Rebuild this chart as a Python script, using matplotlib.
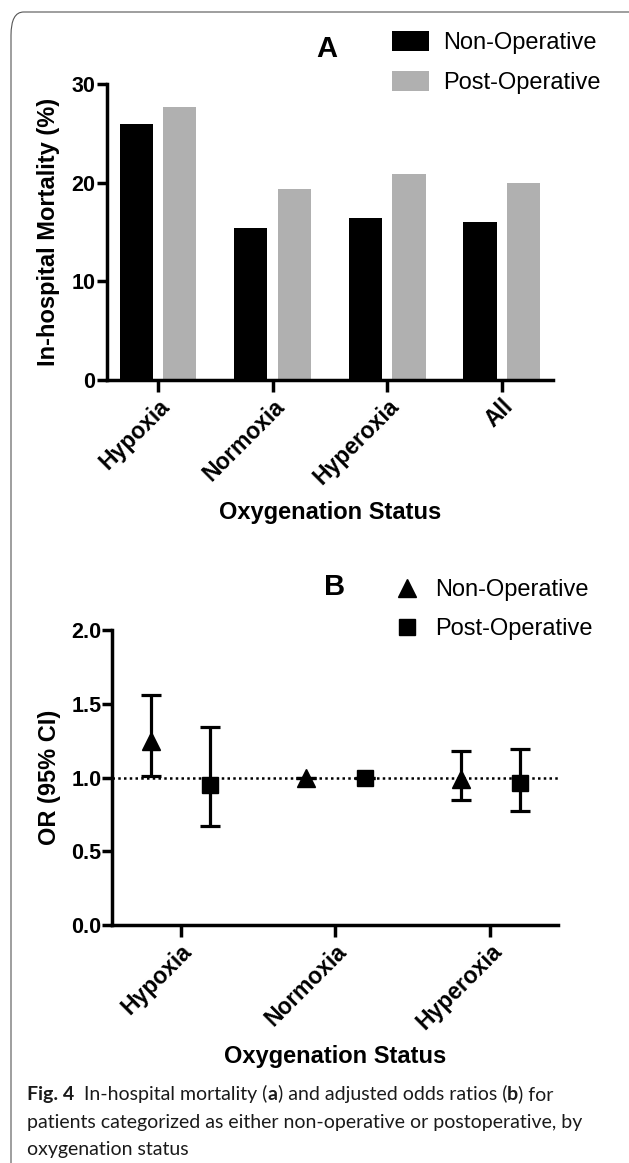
import matplotlib
matplotlib.use("Agg")
import matplotlib.pyplot as plt
from matplotlib.patches import FancyBboxPatch
from matplotlib.lines import Line2D
import numpy as np

plt.rcParams["font.family"] = ["Liberation Sans", "DejaVu Sans"]

# panel A: in-hospital mortality (%)
status_a = ["Hypoxia", "Normoxia", "Hyperoxia", "All"]
mort_nonop = [26.0, 15.4, 16.4, 16.0]
mort_postop = [27.7, 19.4, 20.9, 20.0]

# panel B: adjusted odds ratios (95% CI)
status_b = ["Hypoxia", "Normoxia", "Hyperoxia"]
or_nonop = [1.25, 1.0, 0.99]
or_nonop_lo = [1.01, 1.0, 0.85]
or_nonop_hi = [1.56, 1.0, 1.18]
or_postop = [0.95, 1.0, 0.96]
or_postop_lo = [0.67, 1.0, 0.77]
or_postop_hi = [1.34, 1.0, 1.195]

W, H = 629, 1163
fig = plt.figure(figsize=(W / 100, H / 100), dpi=100)


def px_axes(left, top, right, bottom):
    return fig.add_axes([left / W, 1 - bottom / H, (right - left) / W, (bottom - top) / H])


def style(ax, xlabel, ylabel, ylab_x):
    for s in ["top", "right"]:
        ax.spines[s].set_visible(False)
    for s in ["left", "bottom"]:
        ax.spines[s].set_linewidth(2.5)
    ax.tick_params(axis="y", width=2.5, length=7, labelsize=15.5, pad=1)
    ax.tick_params(axis="x", width=2.5, length=8.5, labelsize=16.5, pad=2)
    for lab in ax.get_yticklabels():
        lab.set_fontweight("bold")
    ax.set_xlabel(xlabel, fontsize=17, fontweight="bold", va="center")
    ax.set_ylabel(ylabel, fontsize=17, fontweight="bold", va="center")
    ax.xaxis.set_label_coords(0.5, -0.4464)
    ax.yaxis.set_label_coords(ylab_x, 0.5)


# card border
card = FancyBboxPatch((11 / W, -0.05), (W + 20 - 11) / W, 1 - 12 / H + 0.05,
                      boxstyle="round,pad=0,rounding_size=0.02",
                      transform=fig.transFigure, fill=False,
                      edgecolor="#555555", linewidth=0.8)
fig.add_artist(card)

# ---- panel A ----
axA = px_axes(106.5, 84.3, 553.4, 380)
x = np.arange(len(status_a))
bw = 0.29
axA.bar(x - 0.19, mort_nonop, bw, color="black", label="Non-Operative")
axA.bar(x + 0.19, mort_postop, bw, color="#b0b0b0", label="Post-Operative")
axA.set_xlim(-0.45, len(status_a) - 0.55)
axA.set_ylim(0, 30)
axA.set_yticks([0, 10, 20, 30])
axA.set_xticks(x)
axA.set_xticklabels(status_a, rotation=45, ha="right", va="top",
                    rotation_mode="anchor", fontweight="bold")
style(axA, "Oxygenation Status", "In-hospital Mortality (%)", -0.1287)
fig.text(327 / W, 1 - 49 / H, "A", fontsize=21, fontweight="bold",
         ha="center", va="center")
axA.legend(loc="upper left", bbox_to_anchor=(392 / W, 1 - 31 / H),
           bbox_transform=fig.transFigure, frameon=False, fontsize=17,
           handlelength=1.57, handleheight=0.93, handletextpad=0.6,
           labelspacing=0.72, borderpad=0, borderaxespad=0)

# ---- panel B ----
axB = px_axes(112.4, 630, 558.2, 925)
xb = np.arange(len(status_b))
axB.axhline(1.0, color="black", linestyle=(0, (1, 1.3)), linewidth=1.8, zorder=1)
yerr_n = [np.subtract(or_nonop, or_nonop_lo), np.subtract(or_nonop_hi, or_nonop)]
yerr_p = [np.subtract(or_postop, or_postop_lo), np.subtract(or_postop_hi, or_postop)]
axB.errorbar(xb - 0.19, or_nonop, yerr=yerr_n, fmt="^", color="black",
             markersize=13, elinewidth=2.3, capsize=7, capthick=2.3,
             label="Non-Operative", zorder=3)
axB.errorbar(xb + 0.19, or_postop, yerr=yerr_p, fmt="s", color="black",
             markersize=12, elinewidth=2.3, capsize=7, capthick=2.3,
             label="Post-Operative", zorder=3)
axB.set_xlim(-0.44, len(status_b) - 0.56)
axB.set_ylim(0, 2.0)
axB.set_yticks([0, 0.5, 1.0, 1.5, 2.0])
axB.set_yticklabels(["0.0", "0.5", "1.0", "1.5", "2.0"])
axB.set_xticks(xb)
axB.set_xticklabels(status_b, rotation=45, ha="right", va="top",
                    rotation_mode="anchor", fontweight="bold")
style(axB, "Oxygenation Status", "OR (95% CI)", -0.1422)
fig.text(335 / W, 1 - 587 / H, "B", fontsize=21, fontweight="bold",
         ha="center", va="center")
handles = [Line2D([], [], marker="^", color="black", linestyle="none", markersize=13),
           Line2D([], [], marker="s", color="black", linestyle="none", markersize=12)]
axB.legend(handles, ["Non-Operative", "Post-Operative"], loc="upper left",
           bbox_to_anchor=(393 / W, 1 - 579 / H), bbox_transform=fig.transFigure,
           frameon=False, fontsize=17, handlelength=1.2, handletextpad=0.6,
           labelspacing=0.72, borderpad=0, borderaxespad=0)

# ---- caption ----
cap_font = ["Lato", "DejaVu Sans"]
cap_size = 14
renderer = fig.canvas.get_renderer()


def rich_line(x0, y0, parts):
    xpos = x0
    for txt, bold in parts:
        t = fig.text(xpos / W, 1 - y0 / H, txt, fontsize=cap_size, family=cap_font,
                     fontweight="bold" if bold else "normal", color="#1a1a1a",
                     va="baseline", ha="left")
        bb = t.get_window_extent(renderer)
        xpos += bb.width


rich_line(27, 1100, [("Fig. 4", True), ("  In-hospital mortality (", False), ("a", True),
                     (") and adjusted odds ratios (", False), ("b", True), (") for", False)])
rich_line(27, 1128, [("patients categorized as either non-operative or postoperative, by", False)])
rich_line(27, 1155, [("oxygenation status", False)])

fig.savefig("out.png", dpi=100)
